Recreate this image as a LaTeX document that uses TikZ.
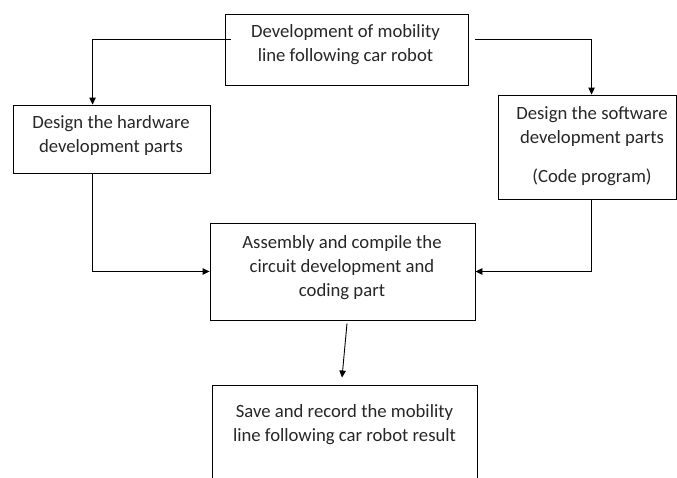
\documentclass[tikz,border=0pt]{standalone}
\usepackage{fontspec}
\setmainfont{Carlito}
\usetikzlibrary{arrows.meta,calc}
\tikzset{
  box/.style={draw=black, line width=0.9pt, rectangle, inner sep=0pt},
  txt/.style={align=center, inner sep=0pt, text=black!85, font=\fontsize{18.7}{24}\selectfont},
  arr/.style={draw=black, line width=0.9pt, -{Triangle[length=7pt,width=6.5pt]}},
}
\begin{document}
\begin{tikzpicture}[x=1pt,y=-1pt]
\useasboundingbox (0,0) rectangle (677,477);
% boxes
\node[box, minimum width=243pt, minimum height=71pt] (top) at (346.5,49.5) {};
\node[box, minimum width=197pt, minimum height=68pt] (hw) at (111.5,139) {};
\node[box, minimum width=178pt, minimum height=104pt] (sw) at (587,147) {};
\node[box, minimum width=265pt, minimum height=97pt] (asm) at (342.5,271.5) {};
\node[box, minimum width=265pt, minimum height=105pt] (save) at (344.5,437.5) {};
% texts
\node[txt] (toptxt) at (345.5,45) {Development of mobility\\line following car robot};
\node[txt] (hwtxt) at (111,136) {Design the hardware\\development parts};
\node[txt] (swtxt) at (592,146) {Design the software\\development parts\\[15pt](Code program)};
\node[txt] (asmtxt) at (342,268) {Assembly and compile the\\circuit development and\\coding part};
\node[txt] (savetxt) at (344.5,425) {Save and record the mobility\\line following car robot result};
% connectors
\coordinate (tl) at ($(top.north west)+(6,26)$);
\coordinate (tr) at ($(top.north east)+(7,26)$);
\draw[arr] (tl) -| ($(hw.north west)+(80,0)$);
\draw[arr] (tr) -| ($(sw.north west)+(94,0)$);
\draw[arr] ($(hw.south west)+(80,0)$) |- (asm.west);
\draw[arr] ($(sw.south west)+(94,0)$) |- (asm.east);
\draw[arr] ($(asm.south)+(4.5,3)$) -- ($(save.north)+(-2.5,-7)$);
\end{tikzpicture}
\end{document}
